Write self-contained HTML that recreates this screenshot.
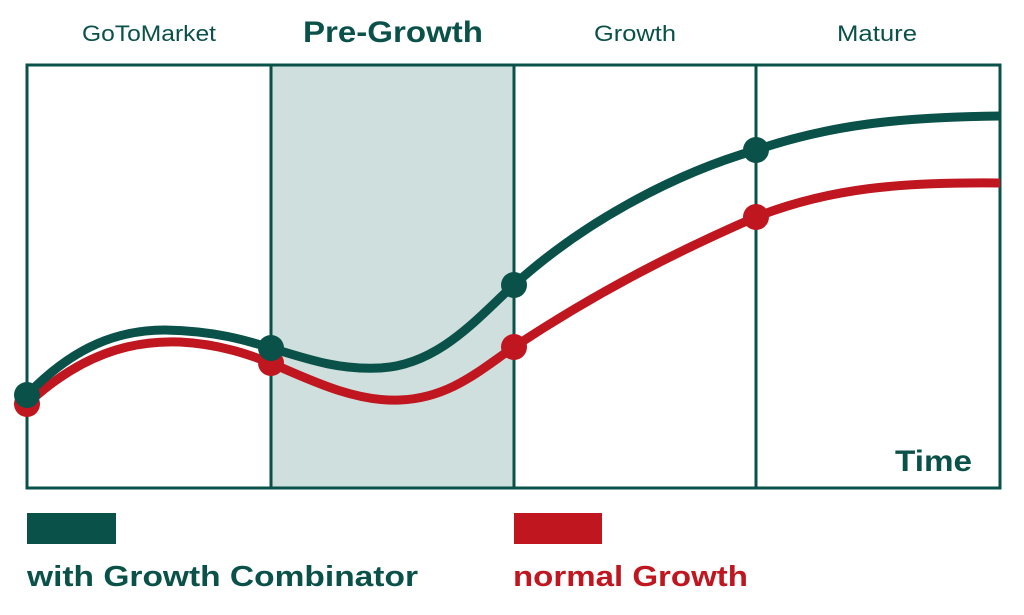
<!DOCTYPE html>
<html><head><meta charset="utf-8"><style>
html,body{margin:0;padding:0;background:#fff;}
svg{display:block;}
</style></head><body>
<svg width="1024" height="615" viewBox="0 0 1024 615" xmlns="http://www.w3.org/2000/svg" font-family="Liberation Sans, sans-serif">
<rect x="271" y="65" width="243" height="423" fill="#cfdfdd"/>
<rect x="27" y="65" width="973" height="423" fill="none" stroke="#0a5249" stroke-width="3"/>
<line x1="271" y1="65" x2="271" y2="488" stroke="#0a5249" stroke-width="3"/>
<line x1="514" y1="65" x2="514" y2="488" stroke="#0a5249" stroke-width="3"/>
<line x1="756" y1="65" x2="756" y2="488" stroke="#0a5249" stroke-width="3"/>
<text x="82" y="41" font-size="22" fill="#0a5249" textLength="134" lengthAdjust="spacingAndGlyphs">GoToMarket</text>
<text x="303" y="42" font-size="30" font-weight="bold" fill="#0a5249" textLength="180" lengthAdjust="spacingAndGlyphs">Pre-Growth</text>
<text x="594" y="41" font-size="22" fill="#0a5249" textLength="82" lengthAdjust="spacingAndGlyphs">Growth</text>
<text x="837" y="41" font-size="22" fill="#0a5249" textLength="80" lengthAdjust="spacingAndGlyphs">Mature</text>
<text x="895" y="471" font-size="30" font-weight="bold" fill="#0a5249" textLength="77" lengthAdjust="spacingAndGlyphs">Time</text>
<path d="M27,404 C80,355 130,340 180,342 C220,344 250,355 271,363 C320,385 360,402 400,400 C450,398 480,370 514,347 C600,290 680,250 756,217 C830,188 900,182 1000,183" fill="none" stroke="#c0161f" stroke-width="9"/>
<path d="M27,395 C75,345 120,330 165,330 C215,331 245,340 271,348 C310,360 340,370 380,368 C440,365 480,315 514,285 C580,225 670,175 756,150 C830,125 900,117 1000,116" fill="none" stroke="#0a5249" stroke-width="9"/>
<g fill="#c0161f"><circle cx="27" cy="404" r="13"/><circle cx="271" cy="363" r="13"/><circle cx="514" cy="347" r="13"/><circle cx="756" cy="217" r="13"/></g>
<g fill="#0a5249"><circle cx="27" cy="395" r="13"/><circle cx="271" cy="348" r="13"/><circle cx="514" cy="285" r="13"/><circle cx="756" cy="150" r="13"/></g>
<rect x="27" y="513" width="89" height="31" fill="#0a5249"/>
<rect x="514" y="513" width="88" height="31" fill="#c0161f"/>
<text x="27" y="586" font-size="29" font-weight="bold" fill="#0a5249" textLength="391" lengthAdjust="spacingAndGlyphs">with Growth Combinator</text>
<text x="513" y="586" font-size="29" font-weight="bold" fill="#c0161f" textLength="235" lengthAdjust="spacingAndGlyphs">normal Growth</text>
</svg>
</body></html>
